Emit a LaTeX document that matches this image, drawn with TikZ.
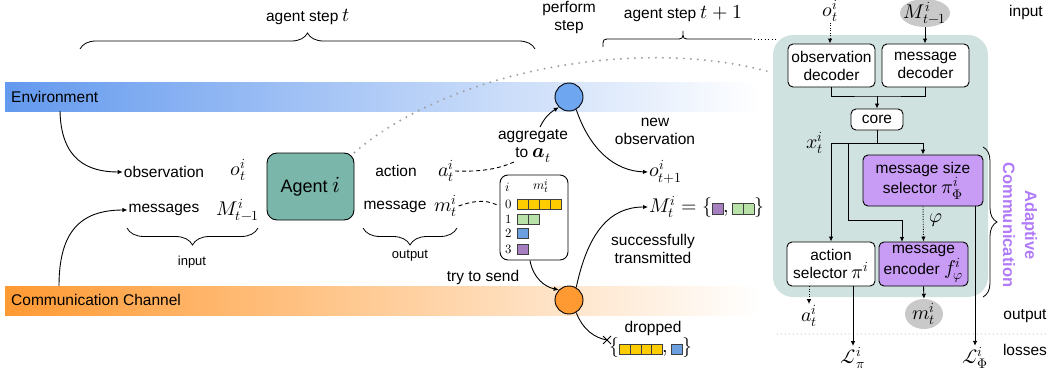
\documentclass[tikz,border=0pt]{standalone}
\usepackage{amsmath}
\usepackage{fontspec}
\usepackage{unicode-math}
\setmainfont{Liberation Sans}
\setmathfont{Latin Modern Math}[Scale=1.28]
\usetikzlibrary{arrows.meta,decorations.pathreplacing,shapes.geometric}
\definecolor{envblue}{HTML}{6399EE}
\definecolor{comorange}{HTML}{FF9A33}
\definecolor{agentteal}{HTML}{7AB7AA}
\definecolor{panelbg}{HTML}{D0E2DF}
\definecolor{boxpurple}{HTML}{C89BF5}
\definecolor{adaptpurple}{HTML}{B07AF8}
\definecolor{cyellow}{HTML}{FFCC00}
\definecolor{cgreen}{HTML}{B9E2A8}
\definecolor{cblue}{HTML}{6C9FE0}
\definecolor{cpurple}{HTML}{A57FBF}
\definecolor{ellgray}{HTML}{C9C9C9}
\definecolor{circblue}{HTML}{6FA6F0}
\newcommand\mcell[1]{\raisebox{-1.5pt}{\setlength\fboxsep{0pt}\setlength\fboxrule{0.7pt}\fcolorbox{black!75}{#1}{\rule{0pt}{10pt}\hspace{10pt}}}}
\begin{document}
\begin{tikzpicture}[x=1pt,y=-1pt,
  every node/.style={font=\fontsize{15.5}{18}\selectfont, inner sep=1pt},
  arr/.style={-{Latex[length=5pt,width=4.5pt]}, line width=0.9pt},
  dotarr/.style={arr, dash pattern=on 1pt off 1.5pt},
  dashline/.style={line width=0.9pt, dash pattern=on 4pt off 3pt},
  pbox/.style={draw, line width=0.9pt, rounded corners=5pt, align=center, inner sep=1pt},
  small/.style={font=\fontsize{13}{15}\selectfont},
  tabfont/.style={font=\fontsize{10}{12}\selectfont},
  bracestyle/.style={decorate, decoration={brace, amplitude=#1}, line width=0.8pt},
  cellbox/.style={draw=black!75, line width=0.7pt},
  dotcurve/.style={gray!75, line width=2.2pt, line cap=round, dash pattern=on 0pt off 7pt},
  circ/.style={circle, draw, line width=0.9pt, minimum size=28pt, inner sep=0pt},
  grayell/.style={ellipse, fill=ellgray}
]
\useasboundingbox (0,0) rectangle (1050,372);

% bands
\shade[left color=envblue, right color=white] (5,82) rectangle (760,111);
\shade[left color=comorange, right color=white] (5,286) rectangle (760,315);
\node[anchor=west] (envtext) at (10,97) {Environment};
\node[anchor=west] (comtext) at (10,300) {Communication Channel};
\coordinate (envout) at (60,111);
\coordinate (comout) at (59,286);

% panel
\fill[panelbg, rounded corners=20pt] (773,35) rectangle (988,297);

% agent and dotted curve to panel
\node[draw, line width=0.9pt, fill=agentteal, rounded corners=10pt, minimum width=87pt, minimum height=67pt, font=\fontsize{18}{20}\selectfont] (agent) at (310.5,186.5) {Agent $i$};
\coordinate (pcorner) at (770,72);
\draw[dotcurve] (agent.north east) .. controls (450,70) and (640,36) .. (pcorner);

% top braces
\draw[bracestyle=16pt] (80,49) -- (535,49);
\node (steptext) at (308,17) {agent step $t$};
\node[align=center] (perform) at (569,18) {perform\\step};
\node (step1text) at (683,14) {agent step $t+1$};
\draw[line width=0.8pt] (603,47) .. controls (603,39) .. (611,39) -- (675,39) .. controls (683,39) .. (683,31) .. controls (683,39) .. (691,39) -- (752,39);
\draw[line width=1pt, dash pattern=on 1pt off 2.5pt] (754,39) -- (776,39);

% left inputs
\node (obs) at (164,172) {observation};
\node (ot) at (238,170) {$o_t^i$};
\node (msgs) at (164,210) {messages};
\node (Mt1) at (238,210) {$M_{t-1}^i$};
\draw[bracestyle=17pt] (258,228) -- (127,228);
\node[small] (inputlbl) at (192,262) {input};
\draw[arr] (envout) .. controls (61,160) and (88,172) .. (obs.west);
\draw[arr] (comout) .. controls (59,232) and (80,210) .. (msgs.west);

% outputs
\node (action) at (396,171) {action};
\node (at) at (446,171) {$a_t^i$};
\node (message) at (395,207) {message};
\node (mt) at (446,206) {$m_t^i$};
\draw[bracestyle=17pt] (457,228) -- (363,228);
\node[small] (outputlbl) at (410,256) {output};

% environment circle
\node[circ, fill=circblue] (envc) at (569,97) {};
\node[align=center] (aggr) at (533,146) {aggregate\\to $\symbfit{a}_t$};
\coordinate (aggrin) at (514,162);
\draw[dashline] (at.east) .. controls (485,172) and (500,168) .. (aggrin);
\draw[arr] (540,127) .. controls (544,119) and (548,114) .. (envc.-135);
\node[align=center] (newobs) at (655,131) {new\\observation};
\node[anchor=west] (ot1) at (648,172) {$o_{t+1}^i$};
\draw[arr] (envc.-60) .. controls (590,150) and (615,171) .. (ot1.west);

% message table
\node[draw, line width=0.9pt, rounded corners=8pt, minimum width=68pt, minimum height=85pt] (table) at (534,217.5) {};
\node[tabfont] (ihead) at (508,187) {$i$};
\node[tabfont] (mhead) at (541,186) {$m_t^i$};
\foreach \r/\y in {0/204,1/219,2/233.5,3/249} {
  \node[tabfont] (row\r) at (509,\y) {$\r$};
}
\foreach \k in {0,...,3} { \draw[cellbox, fill=cyellow] (517+11*\k,199) rectangle +(11,10); }
\foreach \k in {0,1} { \draw[cellbox, fill=cgreen] (517+11*\k,214) rectangle +(11,10); }
\draw[cellbox, fill=cblue] (517,228.5) rectangle +(11,10);
\draw[cellbox, fill=cpurple] (517,244) rectangle +(11,10);
\coordinate (tablein) at (497,205);
\draw[dashline] (mt.east) .. controls (478,199) and (489,201) .. (tablein);

% communication circle
\node[circ, fill=comorange] (comc) at (569,300) {};
\draw[arr] (table.south) ++(-4,0) .. controls (533,278) and (545,287) .. (comc.135);
\node (trysend) at (483,277) {try to send};
\node[anchor=west] (Mset) at (648,207) {$M_t^i=\{$\mcell{cpurple}$,\,$\mcell{cgreen}\hspace{-0.7pt}\mcell{cgreen}$\}$};
\draw[arr] (comc.60) .. controls (588,232) and (610,207) .. (Mset.west);
\node[align=center] (success) at (653,249) {successfully\\transmitted};
\node (dropped) at (653,328) {dropped};
\coordinate (dropx) at (607,340);
\draw[line width=0.9pt] (comc.-60) .. controls (583,330) and (595,338) .. (dropx);
\draw[line width=0.9pt] (dropx) ++(-4,-4) -- ++(8,8) ++(-8,0) -- ++(8,-8);
\node[anchor=west] (dset) at (608,348) {$\{$\mcell{cyellow}\hspace{-0.7pt}\mcell{cyellow}\hspace{-0.7pt}\mcell{cyellow}\hspace{-0.7pt}\mcell{cyellow}$,\,$\mcell{cblue}$\}$};

% right panel contents
\node (pot) at (830,11) {$o_t^i$};
\node[grayell, inner xsep=-7pt, inner ysep=-5pt, minimum width=50pt, minimum height=28pt] (pM) at (925,13) {$M_{t-1}^i$};
\node (inputr) at (1026,12) {input};
\node[pbox, fill=white, minimum width=87pt, minimum height=43pt] (obsdec) at (831.5,65.5) {observation\\decoder};
\node[pbox, fill=white, minimum width=87pt, minimum height=43pt] (msgdec) at (925.5,65.5) {message\\decoder};
\node[pbox, fill=white, minimum width=52pt, minimum height=21pt] (core) at (877,119.5) {core};
\node[pbox, fill=boxpurple, minimum width=120pt, minimum height=51pt] (msize) at (923,180.5) {message size\\selector $\pi^i_{\mitPhi}$};
\node[pbox, fill=white, minimum width=88pt, minimum height=44pt] (actsel) at (831,264) {action\\selector $\pi^i$};
\node[pbox, fill=boxpurple, minimum width=89pt, minimum height=44pt] (enc) at (923.5,264) {message\\encoder $f^i_{\varphi}$};
\node (xt) at (815,143) {$x_t^i$};
\node (phi) at (936,220) {$\varphi$};
\node (pat) at (809,316) {$a_t^i$};
\node[grayell, inner sep=-3pt, minimum width=38pt, minimum height=30pt] (pmt) at (924,314) {$m_t^i$};
\node (outputr) at (1025,316) {output};
\node (losses) at (1025,350) {losses};
\node (Lpi) at (853,358) {$\mathcal{L}_\pi^i$};
\node (LPhi) at (975,358) {$\mathcal{L}_{\mitPhi}^i$};
\draw[gray!80, line width=1pt, line cap=round, dash pattern=on 0pt off 4pt] (777,334) -- (1045,334);

\draw[dotarr] (pot.south) -- (obsdec.north -| pot.south);
\draw[arr] (pM.south) -- (msgdec.north -| pM.south);
\coordinate (decjoin) at (877,96);
\draw[line width=0.9pt] (obsdec.south) |- (decjoin) -| (msgdec.south);
\draw[arr] (decjoin) -- (core.north);
\coordinate (xsplit) at (877,143);
\draw[line width=0.9pt] (core.south) -- (xsplit);
\draw[arr] (831,143) -- (923,143) -- (msize.north);
\draw[arr] (831,143) -- (actsel.north);
\draw[arr] (848,143) -- (848,220) -- (902,220) -- (902,242);
\draw[dotarr] (msize.south) -- (enc.north);
\draw[dotarr] (809,286) -- (pat.north);
\draw[arr] (enc.south) -- (pmt.north);
\draw[arr] (853,286) -- (Lpi.north -| 853,0);
\draw[arr] (975,206) -- (LPhi.north -| 975,0);

% adaptive communication
\draw[bracestyle=14pt] (983,147) -- (983,297);
\node[rotate=-90, align=center, text=adaptpurple, font=\fontsize{16.5}{22}\bfseries] (adapt) at (1020,225) {Adaptive\\Communication};
\end{tikzpicture}
\end{document}
